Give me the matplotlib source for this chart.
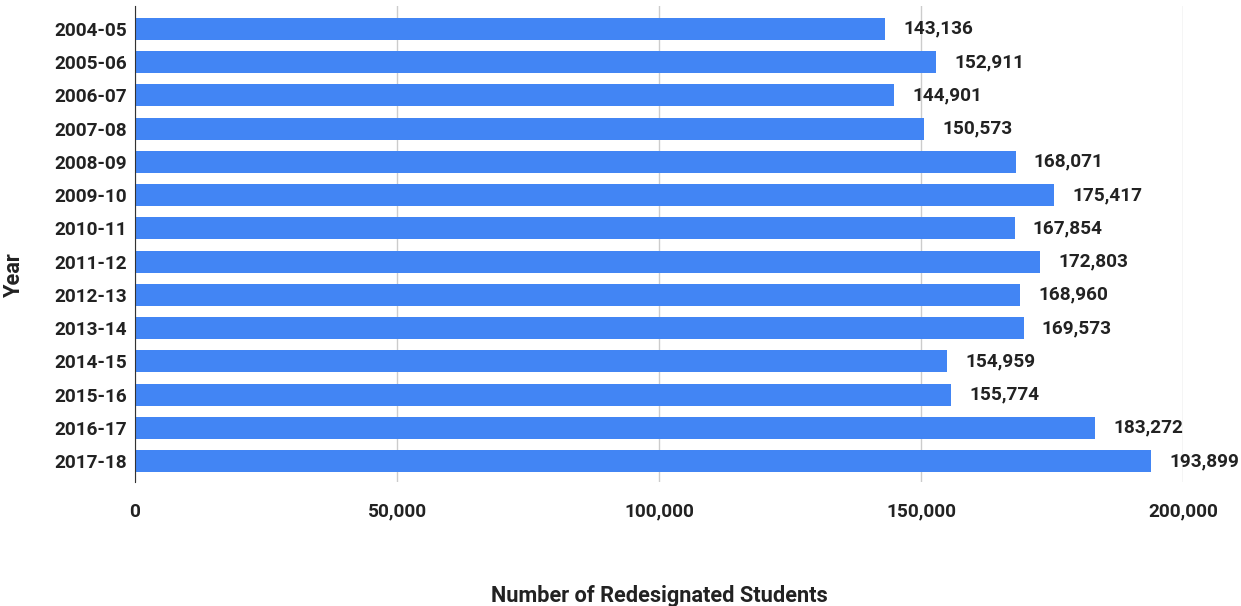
import matplotlib
matplotlib.use('Agg')
import matplotlib.pyplot as plt
from matplotlib.ticker import FuncFormatter

plt.rcParams['font.family'] = ['Roboto', 'DejaVu Sans']

# data
years = ['2004-05', '2005-06', '2006-07', '2007-08', '2008-09', '2009-10', '2010-11',
         '2011-12', '2012-13', '2013-14', '2014-15', '2015-16', '2016-17', '2017-18']
students = [143136, 152911, 144901, 150573, 168071, 175417, 167854,
            172803, 168960, 169573, 154959, 155774, 183272, 193899]
x_ticks = [0, 50000, 100000, 150000, 200000]

c_bar = '#4285F4'
c_text = '#222222'

fig = plt.figure(figsize=(12.41, 6.06), dpi=100)
ax = fig.add_axes([135/1241, 1 - 482/606, (1183 - 135)/1241, 476/606])

pos = list(range(len(years)))
ax.barh(pos, students, height=0.66, color=c_bar, zorder=3)

for p, v in zip(pos, students):
    ax.annotate(f'{v:,}', xy=(v, p), xytext=(13, 0), textcoords='offset points',
                ha='left', va='center', fontsize=13.7, weight='bold', color=c_text)

ax.set_xlim(0, 200000)
ax.set_ylim(len(years) - 1 + 0.63, -0.69)
ax.set_yticks(pos)
ax.set_yticklabels(years)
ax.set_xticks(x_ticks)
ax.xaxis.set_major_formatter(FuncFormatter(lambda v, _: f'{int(v):,}'))

ax.grid(axis='x', color='#cccccc', linewidth=1, zorder=0)
for s in ['top', 'right', 'bottom']:
    ax.spines[s].set_visible(False)
ax.spines['left'].set_color('#333333')
ax.spines['left'].set_zorder(4)
ax.tick_params(length=0, labelsize=13.7, labelcolor=c_text)
ax.tick_params(axis='x', pad=15)
ax.tick_params(axis='y', pad=6)
for lbl in ax.get_xticklabels() + ax.get_yticklabels():
    lbl.set_fontweight('bold')

fig.text(659/1241, 1 - 596/606, 'Number of Redesignated Students', ha='center', va='center',
         fontsize=15.7, weight='bold', color=c_text)
fig.text(14/1241, 1 - 275/606, 'Year', ha='center', va='center', rotation=90,
         fontsize=15.7, weight='bold', color=c_text)

fig.savefig('out.png', dpi=100, facecolor='white')
